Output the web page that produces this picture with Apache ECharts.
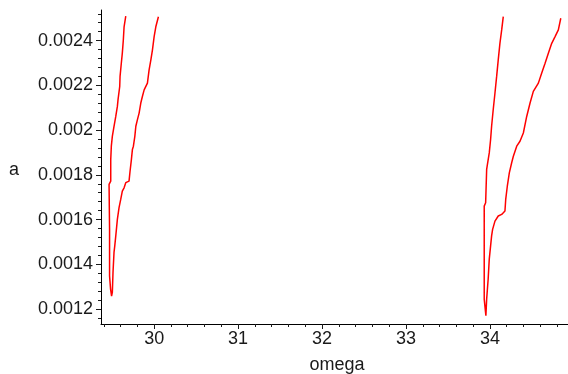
<!DOCTYPE html>
<html>
<head>
<meta charset="utf-8">
<script src="https://cdn.jsdelivr.net/npm/echarts@6/dist/echarts.min.js"></script>
<style>
  html, body { margin: 0; padding: 0; background: #fff; }
  #main { width: 568px; height: 374px; }
</style>
</head>
<body>
<div id="main"></div>
<script>
// tick labels
const omegaTicks = [30, 31, 32, 33, 34];
const aTicks = [0.0012, 0.0014, 0.0016, 0.0018, 0.002, 0.0022, 0.0024];

// branch near omega = 29.5 (inner side top->bottom, then outer side bottom->top)
const leftOmega = [29.662, 29.642, 29.633, 29.621, 29.609, 29.594, 29.590, 29.570, 29.562, 29.543,
  29.522, 29.502, 29.490, 29.483, 29.483, 29.463, 29.469, 29.469, 29.481, 29.493,
  29.502, 29.510, 29.522, 29.531, 29.543, 29.562, 29.582, 29.602, 29.621, 29.642,
  29.662, 29.701, 29.713, 29.729, 29.741, 29.753, 29.770, 29.782, 29.801, 29.821,
  29.841, 29.860, 29.881, 29.920, 29.940, 29.961, 29.980, 30.000, 30.020, 30.051];
const leftA = [0.00251, 0.002462, 0.002403, 0.002344, 0.002299, 0.00224, 0.002195, 0.002136, 0.002106, 0.002061,
  0.002017, 0.001972, 0.001928, 0.001868, 0.001772, 0.001757, 0.001556, 0.001348, 0.001289, 0.001258,
  0.001274, 0.001363, 0.001453, 0.001482, 0.001527, 0.001601, 0.001653, 0.00169, 0.001727, 0.001742,
  0.001765, 0.001772, 0.001816, 0.001868, 0.001913, 0.001928, 0.001972, 0.002017, 0.002047, 0.002076,
  0.002121, 0.00215, 0.00218, 0.00221, 0.002269, 0.002314, 0.002359, 0.002418, 0.002462, 0.002507];

// branch near omega = 34
const rightOmega = [34.159, 34.140, 34.119, 34.099, 34.080, 34.060, 34.039, 34.020, 34.008, 33.992,
  33.967, 33.961, 33.949, 33.932, 33.932, 33.946, 33.952,
  33.961, 33.967, 33.979, 33.992, 34.008, 34.020, 34.032, 34.060, 34.099, 34.140,
  34.179, 34.188, 34.207, 34.231, 34.259, 34.279, 34.319, 34.358, 34.398, 34.438,
  34.478, 34.517, 34.577, 34.617, 34.657, 34.696, 34.736, 34.776, 34.815, 34.844];
const rightA = [0.002507, 0.002448, 0.002388, 0.002314, 0.00224, 0.002166, 0.002091, 0.002017, 0.001958, 0.001898,
  0.001839, 0.001824, 0.001675, 0.00166, 0.001244, 0.001191, 0.00117,
  0.001244, 0.001274, 0.001334, 0.001423, 0.001482, 0.001527, 0.001556, 0.001593, 0.001616, 0.001623,
  0.001638, 0.00169, 0.001749, 0.001809, 0.001854, 0.001883, 0.001928, 0.00195, 0.001987, 0.002061,
  0.002121, 0.002173, 0.00221, 0.002255, 0.002299, 0.002344, 0.002388, 0.002418, 0.002448, 0.0025];

const X_MIN = 29.367, X_MAX = 34.93;
const Y_MIN = 0.001133, Y_MAX = 0.002537;

function zip(xs, ys) {
  return xs.map((x, i) => [x, ys[i]]);
}

// minor tick positions
const minorX = [];
for (let i = 147; i <= 174; i++) minorX.push(i / 5);
const minorY = [];
for (let i = 29; i <= 63; i++) minorY.push(i / 25000);

const font = "'Liberation Sans', Arial, sans-serif";
const ink = "#1a1a1a";

const chart = echarts.init(document.getElementById("main"));

chart.setOption({
  animation: false,
  grid: {
    left: 101,
    right: 0,
    top: 10,
    bottom: 50,
    containLabel: false,
    outerBoundsMode: "none",
  },
  xAxis: [
    {
      type: "value",
      min: X_MIN,
      max: X_MAX,
      position: "bottom",
      offset: 0,
      axisLine: { onZero: false, lineStyle: { color: "#000", width: 1 } },
      axisTick: { customValues: omegaTicks, length: 5, lineStyle: { color: ink } },
      axisLabel: {
        customValues: omegaTicks,
        margin: 6,
        fontSize: 18,
        fontFamily: font,
        color: ink,
      },
      splitLine: { show: false },
    },
    {
      type: "value",
      min: X_MIN,
      max: X_MAX,
      position: "bottom",
      offset: 0,
      axisLine: { show: false, onZero: false },
      axisTick: { customValues: minorX, length: 3, lineStyle: { color: ink } },
      axisLabel: { show: false },
      splitLine: { show: false },
    },
  ],
  yAxis: [
    {
      type: "value",
      min: Y_MIN,
      max: Y_MAX,
      position: "left",
      offset: 0,
      axisLine: { show: true, onZero: false, lineStyle: { color: "#000", width: 1 } },
      axisTick: { show: true, customValues: aTicks, length: 5, lineStyle: { color: ink } },
      axisLabel: {
        customValues: aTicks,
        margin: 8,
        fontSize: 18,
        fontFamily: font,
        color: ink,
        formatter: (v) => String(parseFloat(Number(v).toFixed(5))),
      },
      splitLine: { show: false },
    },
    {
      type: "value",
      min: Y_MIN,
      max: Y_MAX,
      position: "left",
      offset: 0,
      axisLine: { show: false, onZero: false },
      axisTick: { show: true, customValues: minorY, length: 3, lineStyle: { color: ink } },
      axisLabel: { show: false },
      splitLine: { show: false },
    },
  ],
  graphic: [
    {
      type: "text",
      x: 14,
      y: 170,
      style: { text: "a", font: "18px " + font, fill: ink, align: "center", verticalAlign: "middle" },
    },
    {
      type: "text",
      x: 337,
      y: 365,
      style: { text: "omega", font: "18px " + font, fill: ink, align: "center", verticalAlign: "middle" },
    },
  ],
  series: [
    {
      type: "line",
      xAxisIndex: 0,
      yAxisIndex: 0,
      data: zip(leftOmega, leftA),
      showSymbol: false,
      silent: true,
      lineStyle: { color: "#ff0000", width: 1.5 },
    },
    {
      type: "line",
      xAxisIndex: 0,
      yAxisIndex: 0,
      data: zip(rightOmega, rightA),
      showSymbol: false,
      silent: true,
      lineStyle: { color: "#ff0000", width: 1.5 },
    },
  ],
});
</script>
</body>
</html>
